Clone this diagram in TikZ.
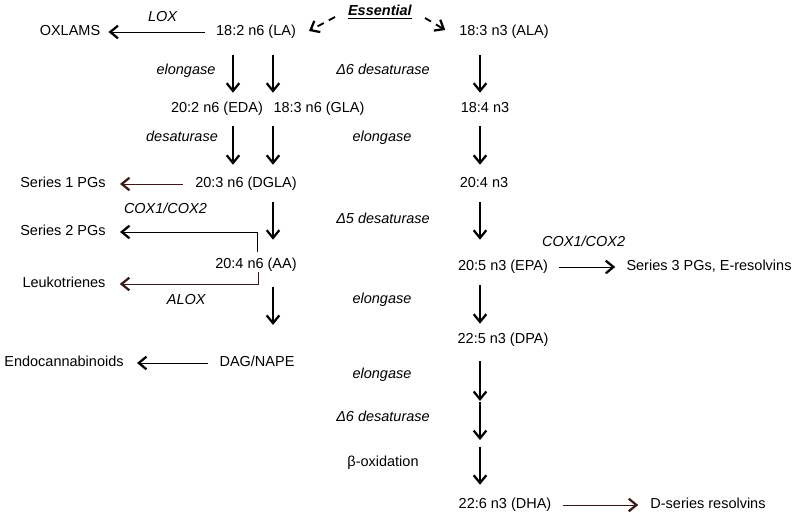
\documentclass[tikz,border=0pt]{standalone}
\usepackage{fontspec}
\setmainfont{Liberation Sans}
\usetikzlibrary{arrows.meta}
\definecolor{darkline}{RGB}{60,25,25}

\begin{document}
\begin{tikzpicture}[x=0.025cm, y=-0.025cm,
    every node/.style={font=\fontsize{10.3}{12}\selectfont, inner sep=2pt, text height=7.6pt, text depth=2.2pt, text=black},
    enz/.style={font=\fontsize{10.3}{12}\selectfont\itshape},
    >={Straight Barb[length=5.5pt, width=9pt, line width=1.6pt]},
    varr/.style={->, line width=0.9pt},
    harr/.style={->, line width=0.7pt},
    dasharr/.style={->, line width=1.3pt, dash pattern=on 5pt off 4pt}]
    \useasboundingbox (0,0) rectangle (800,518);

    \node (ess) at (380,12) {\underline{\textbf{\textit{Essential}}}};
    \node (oxl) at (70,32) {OXLAMS};
    \node (la) at (256,32) {18:2 n6 (LA)};
    \node (ala) at (504,32) {18:3 n3 (ALA)};
    \node (eda) at (217,109) {20:2 n6 (EDA)};
    \node (gla) at (319,109) {18:3 n6 (GLA)};
    \node (sda) at (485,109) {18:4 n3};
    \node (s1) at (63,184) {Series 1 PGs};
    \node (dgla) at (246,184) {20:3 n6 (DGLA)};
    \node (eta) at (484,184) {20:4 n3};
    \node (s2) at (63,232) {Series 2 PGs};
    \node (aa) at (256,265) {20:4 n6 (AA)};
    \node (epa) at (503,267) {20:5 n3 (EPA)};
    \node (s3) at (709,267) {Series 3 PGs, E-resolvins};
    \node (leuk) at (64,284) {Leukotrienes};
    \node (dpa) at (503,340) {22:5 n3 (DPA)};
    \node (endo) at (64,363) {Endocannabinoids};
    \node (dag) at (257,363) {DAG/NAPE};
    \node (dha) at (505,505) {22:6 n3 (DHA)};
    \node (dres) at (708,505) {D-series resolvins};

    \node[enz] (elo1) at (186,71) {elongase};
    \node[enz] (desa6a) at (383,71) {Δ6 desaturase};
    \node[enz] (desa1) at (182,138) {desaturase};
    \node[enz] (elo2) at (382,138) {elongase};
    \node[enz] (desa5) at (383,220) {Δ5 desaturase};
    \node[enz] (elo3) at (382,300) {elongase};
    \node[enz] (elo4) at (382,375) {elongase};
    \node[enz] (desa6b) at (383,418) {Δ6 desaturase};
    \node (boxid) at (383,463) {β-oxidation};

    \coordinate (ca) at (233,0);
    \coordinate (cb) at (273,0);
    \coordinate (cc) at (480,0);
    \coordinate (m1) at (480,401);
    \coordinate (m2) at (480,444);

    \draw[dasharr] ([shift={(-10,5)}]ess.west) -- ([shift={(10,-1)}]la.east);
    \draw[dasharr] ([shift={(10,6)}]ess.east) -- ([shift={(-11,-2)}]ala.west);

    \draw[varr, shorten <=9.5pt, shorten >=4.5pt] (la.south -| ca) -- (eda.north -| ca);
    \draw[varr, shorten <=9.5pt, shorten >=4.5pt] (la.south -| cb) -- (gla.north -| cb);
    \draw[varr, shorten <=9.5pt, shorten >=4.5pt] (ala.south -| cc) -- (sda.north -| cc);
    \draw[varr, shorten <=5.2pt, shorten >=6.6pt] (eda.south -| ca) -- (dgla.north -| ca);
    \draw[varr, shorten <=5.2pt, shorten >=6.6pt] (gla.south -| cb) -- (dgla.north -| cb);
    \draw[varr, shorten <=5.2pt, shorten >=6.6pt] (sda.south -| cc) -- (eta.north -| cc);
    \draw[varr, shorten <=5.9pt, shorten >=10.9pt] (dgla.south -| cb) -- (aa.north -| cb);
    \draw[varr, shorten <=5.9pt, shorten >=12.3pt] (eta.south -| cc) -- (epa.north -| cc);
    \draw[varr, shorten <=8.7pt, shorten >=20pt] (aa.south -| cb) -- (dag.north -| cb);
    \draw[varr, shorten <=5.9pt, shorten >=4.5pt] (epa.south -| cc) -- (dpa.north -| cc);
    \draw[varr, shorten <=8pt] (dpa.south -| cc) -- (m1);
    \draw[varr, shorten <=0.7pt, shorten >=2.8pt] (m1) -- (m2);
    \draw[varr, shorten <=2.1pt, shorten >=7.3pt] (m2) -- (dha.north -| cc);

    \draw[harr, shorten <=5.8pt, shorten >=3.7pt] (la.west) -- (oxl.east) node[enz, pos=0.46, above=3pt] (lox) {LOX};
    \draw[harr, darkline, shorten <=6.4pt, shorten >=8pt] (dgla.west) -- (s1.east);
    \draw[harr, shorten <=2pt, shorten >=8pt] ([xshift=1.4pt]aa.north) |- (s2.east) node[enz, pos=0.81, above=8.7pt] (coxa) {COX1/COX2};
    \draw[harr, darkline, shorten >=8pt] ([shift={(2,-3)}]aa.south) |- (leuk.east) node[enz, pos=0.74, below=4.5pt] (alox) {ALOX};
    \draw[harr, shorten <=5.8pt, shorten >=5.8pt] (epa.east) -- (s3.west) node[enz, pos=0.45, above=10pt] (coxb) {COX1/COX2};
    \draw[harr, shorten <=5.8pt, shorten >=7.3pt] (dag.west) -- (endo.east);
    \draw[harr, darkline, shorten <=5.8pt, shorten >=6.5pt] (dha.east) -- (dres.west);
\end{tikzpicture}
\end{document}
